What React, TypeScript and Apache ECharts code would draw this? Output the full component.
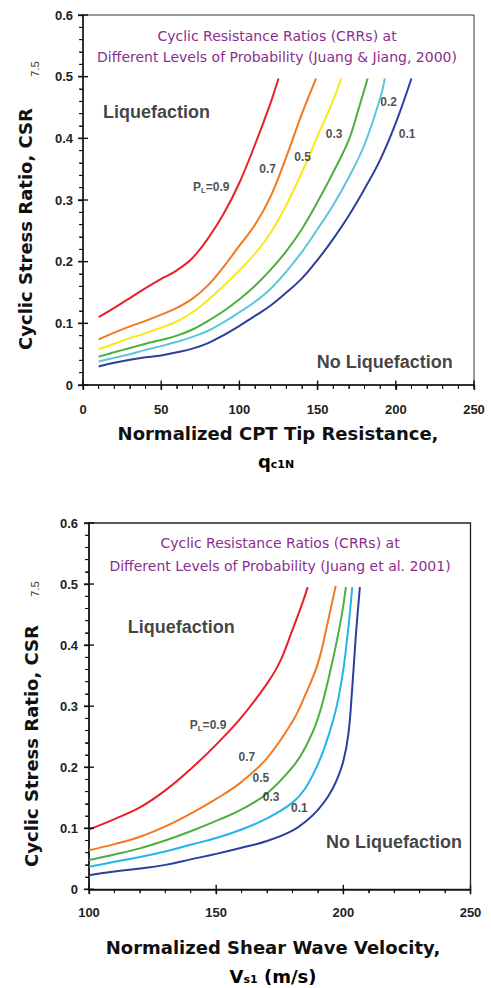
import React, { useEffect, useRef } from "react";
import * as echarts from "echarts";

// ---------- Top chart: CPT (Juang & Jiang, 2000) ----------
const cptXTicks = [0, 50, 100, 150, 200, 250];
const csrTicks = [0, 0.1, 0.2, 0.3, 0.4, 0.5, 0.6];
const cptX09 = [10, 20, 30, 40, 50, 60, 70, 80, 90, 100, 110, 120, 125];
const cptY09 = [0.110, 0.125, 0.141, 0.157, 0.172, 0.186, 0.206, 0.238, 0.278, 0.328, 0.390, 0.458, 0.497];
const cptX07 = [10, 20, 30, 40, 50, 60, 70, 80, 90, 100, 110, 120, 130, 140, 149];
const cptY07 = [0.074, 0.085, 0.095, 0.104, 0.114, 0.125, 0.140, 0.162, 0.192, 0.226, 0.260, 0.306, 0.370, 0.440, 0.497];
const cptX05 = [10, 20, 30, 40, 50, 60, 70, 80, 90, 100, 110, 120, 130, 140, 150, 160, 165];
const cptY05 = [0.058, 0.067, 0.076, 0.084, 0.093, 0.103, 0.118, 0.138, 0.161, 0.186, 0.213, 0.247, 0.292, 0.345, 0.404, 0.462, 0.497];
const cptX03 = [10, 20, 30, 40, 50, 60, 70, 80, 90, 100, 110, 120, 130, 140, 150, 160, 170, 176, 182];
const cptY03 = [0.046, 0.053, 0.060, 0.067, 0.073, 0.080, 0.090, 0.104, 0.120, 0.139, 0.161, 0.187, 0.217, 0.253, 0.297, 0.345, 0.398, 0.446, 0.497];
const cptX02 = [10, 20, 30, 40, 50, 60, 70, 80, 90, 100, 110, 120, 130, 140, 150, 160, 170, 180, 190, 193];
const cptY02 = [0.038, 0.044, 0.050, 0.057, 0.063, 0.070, 0.078, 0.088, 0.102, 0.118, 0.135, 0.156, 0.184, 0.216, 0.253, 0.292, 0.337, 0.390, 0.465, 0.497];
const cptX01 = [10, 20, 30, 40, 50, 60, 70, 80, 90, 100, 110, 120, 130, 140, 150, 160, 170, 180, 190, 200, 210];
const cptY01 = [0.030, 0.036, 0.041, 0.045, 0.048, 0.053, 0.059, 0.068, 0.081, 0.096, 0.112, 0.129, 0.150, 0.173, 0.203, 0.237, 0.275, 0.318, 0.365, 0.425, 0.497];

// ---------- Bottom chart: Vs (Juang et al. 2001) ----------
const vsXTicks = [100, 150, 200, 250];
const vsX09 = [100, 110, 120, 130, 140, 150, 160, 170, 175, 180, 184, 186];
const vsY09 = [0.098, 0.115, 0.134, 0.162, 0.197, 0.237, 0.282, 0.337, 0.372, 0.425, 0.470, 0.495];
const vsX07 = [100, 110, 120, 130, 140, 150, 160, 170, 180, 185, 190, 194, 197];
const vsY07 = [0.064, 0.074, 0.086, 0.103, 0.124, 0.148, 0.176, 0.215, 0.275, 0.318, 0.370, 0.440, 0.497];
const vsX05 = [100, 110, 120, 130, 140, 150, 160, 170, 180, 185, 190, 195, 199, 201];
const vsY05 = [0.048, 0.057, 0.067, 0.080, 0.095, 0.112, 0.131, 0.157, 0.200, 0.232, 0.280, 0.360, 0.440, 0.495];
const vsX03 = [100, 110, 120, 130, 140, 150, 160, 170, 180, 185, 190, 193, 196, 198, 200, 202, 203.5];
const vsY03 = [0.037, 0.045, 0.053, 0.062, 0.073, 0.084, 0.098, 0.116, 0.142, 0.165, 0.205, 0.237, 0.277, 0.312, 0.360, 0.430, 0.495];
const vsX01 = [100, 110, 120, 130, 140, 150, 160, 170, 180, 186, 190, 194, 197, 200, 202, 203.5, 205, 206.5];
const vsY01 = [0.023, 0.029, 0.034, 0.040, 0.049, 0.058, 0.068, 0.079, 0.096, 0.114, 0.130, 0.152, 0.175, 0.210, 0.255, 0.330, 0.420, 0.495];

const cptColors = ["#E8202A", "#F2791F", "#F9E816", "#4DAF3D", "#5CC6DD", "#2C3F9C"];
const vsColors = ["#E8202A", "#F2791F", "#4DAF3D", "#22B5E8", "#2C3F9C"];

// annotation labels [x, y, text]
const cptNotes: [number, number, string][] = [
  [82, 0.321, "{b|P}{s|L}{b|=0.9}"],
  [118, 0.350, "{b|0.7}"],
  [140.4, 0.370, "{b|0.5}"],
  [160.6, 0.407, "{b|0.3}"],
  [195.4, 0.459, "{b|0.2}"],
  [207.2, 0.407, "{b|0.1}"],
  [47, 0.443, "{big|Liquefaction}"],
  [193, 0.037, "{big|No Liquefaction}"],
];
const vsNotes: [number, number, string][] = [
  [146.8, 0.269, "{b|P}{s|L}{b|=0.9}"],
  [162.1, 0.2165, "{b|0.7}"],
  [167.6, 0.182, "{b|0.5}"],
  [171.6, 0.151, "{b|0.3}"],
  [182.7, 0.133, "{b|0.1}"],
  [136.3, 0.429, "{big|Liquefaction}"],
  [219.9, 0.0774, "{big|No Liquefaction}"],
];

const FONT = "'Liberation Sans', Arial, sans-serif";
const zip = (xs: number[], ys: number[]) => xs.map((x, i) => [x, ys[i]]);

function makeAxis(gridIndex: number, ticks: number[], labelMargin: number, isX: boolean) {
  return {
    type: "value",
    gridIndex,
    min: ticks[0],
    max: ticks[ticks.length - 1],
    interval: ticks[1] - ticks[0],
    position: isX ? "bottom" : "left",
    axisLine: { show: true, onZero: false, lineStyle: { color: "#111", width: 1.5 } },
    axisTick: { show: true, inside: false, length: 5, lineStyle: { color: "#111", width: 1.3 } },
    minorTick: { show: true, splitNumber: 5, length: 3.5, lineStyle: { color: "#111", width: 1 } },
    splitLine: { show: false },
    minorSplitLine: { show: false },
    axisLabel: {
      show: true,
      margin: labelMargin,
      color: "#222",
      fontSize: 13,
      fontWeight: "bold",
      fontFamily: FONT,
      formatter: (v: number) => (isX ? String(v) : v === 0 ? "0" : v.toFixed(1)),
    },
  };
}

function lineSeries(idx: number, xs: number[], ys: number[], color: string) {
  return {
    type: "line",
    xAxisIndex: idx,
    yAxisIndex: idx,
    data: zip(xs, ys),
    showSymbol: false,
    symbol: "none",
    smooth: 0.4,
    lineStyle: { color, width: 2 },
    z: 3,
  };
}

// tick marks drawn as thin rect symbols placed on the axes through the scales
function tickSeries(idx: number, xT: number[], yT: number[]) {
  const x0 = xT[0];
  const y0 = yT[0];
  const split = (arr: number[]) => {
    const major: number[] = [];
    const minor: number[] = [];
    for (let i = 0; i < arr.length; i++) {
      major.push(arr[i]);
      if (i < arr.length - 1) {
        const step = (arr[i + 1] - arr[i]) / 5;
        for (let k = 1; k < 5; k++) minor.push(arr[i] + step * k);
      }
    }
    return { major, minor };
  };
  const xs = split(xT);
  const ys = split(yT);
  const base = {
    type: "scatter",
    xAxisIndex: idx,
    yAxisIndex: idx,
    symbol: "rect",
    clip: false,
    silent: true,
    z: 6,
    itemStyle: { color: "#111", opacity: 1 },
    emphasis: { disabled: true },
  };
  return [
    { ...base, data: xs.major.map((v) => [v, y0]), symbolSize: [1.4, 9] },
    { ...base, data: xs.minor.map((v) => [v, y0]), symbolSize: [1, 4], symbolOffset: [0, 2] },
    { ...base, data: ys.major.map((v) => [x0, v]), symbolSize: [10, 1.4] },
    { ...base, data: ys.minor.map((v) => [x0, v]), symbolSize: [4, 1], symbolOffset: [-2, 0] },
  ];
}

const richStyles = {
  b: { fontSize: 12, fontWeight: "bold", fontFamily: FONT, color: "#222" },
  s: { fontSize: 8, fontWeight: "bold", fontFamily: FONT, color: "#222", padding: [6, 0, 0, 0] },
  big: { fontSize: 18, fontWeight: "bold", fontFamily: FONT, color: "#111" },
};

function noteSeries(idx: number, notes: [number, number, string][]) {
  return {
    type: "scatter",
    xAxisIndex: idx,
    yAxisIndex: idx,
    symbolSize: 1,
    itemStyle: { color: "rgba(0,0,0,0)" },
    silent: true,
    z: 5,
    data: notes.map((n) => ({ value: [n[0], n[1]], label: { formatter: n[2] } })),
    label: { show: true, position: "inside", rich: richStyles },
  };
}

export default function App() {
  const ref = useRef<HTMLDivElement>(null);
  useEffect(() => {
    if (!ref.current) return;
    const chart = echarts.init(ref.current, null, { renderer: "svg" });

    const center = { textAlign: "center", textVerticalAlign: "middle", align: "center", verticalAlign: "middle" };
    const titleStyle = (text: string) => ({ text, fill: "#8A2E8E", font: "14px 'DejaVu Sans', sans-serif", ...center });
    const axisName = (text: string) => ({ text, fill: "#111", font: "bold 18px 'DejaVu Sans', sans-serif", ...center });
    const subStyle = (text: string) => ({ text, fill: "#333", font: "11px 'Liberation Sans', Arial, sans-serif", ...center });
    const subRich = {
      m: { fontSize: 18, fontWeight: "bold", fontFamily: "'DejaVu Sans', sans-serif", color: "#111" },
      s: { fontSize: 11, fontWeight: "bold", fontFamily: "'DejaVu Sans', sans-serif", color: "#111", padding: [7, 0, 0, 0] },
    };

    chart.setOption({
      animation: false,
      backgroundColor: "#fff",
      grid: [
        { left: 83, top: 15, width: 391, height: 370, show: true, borderColor: "#333", borderWidth: 1, backgroundColor: "transparent" },
        { left: 89, top: 523, width: 381.5, height: 366.3, show: true, borderColor: "#222", borderWidth: 1.3, backgroundColor: "transparent" },
      ],
      xAxis: [makeAxis(0, cptXTicks, 18, true), makeAxis(1, vsXTicks, 17, true)],
      yAxis: [makeAxis(0, csrTicks, 10, false), makeAxis(1, csrTicks, 11, false)],
      series: [
        lineSeries(0, cptX09, cptY09, cptColors[0]),
        lineSeries(0, cptX07, cptY07, cptColors[1]),
        lineSeries(0, cptX05, cptY05, cptColors[2]),
        lineSeries(0, cptX03, cptY03, cptColors[3]),
        lineSeries(0, cptX02, cptY02, cptColors[4]),
        lineSeries(0, cptX01, cptY01, cptColors[5]),
        noteSeries(0, cptNotes),
        ...tickSeries(0, cptXTicks, csrTicks),
        lineSeries(1, vsX09, vsY09, vsColors[0]),
        lineSeries(1, vsX07, vsY07, vsColors[1]),
        lineSeries(1, vsX05, vsY05, vsColors[2]),
        lineSeries(1, vsX03, vsY03, vsColors[3]),
        lineSeries(1, vsX01, vsY01, vsColors[4]),
        noteSeries(1, vsNotes),
        ...tickSeries(1, vsXTicks, csrTicks),
      ],
      graphic: [
        { type: "text", x: 277, y: 36, style: titleStyle("Cyclic Resistance Ratios (CRRs) at") },
        { type: "text", x: 277, y: 57, style: titleStyle("Different Levels of Probability (Juang & Jiang, 2000)") },
        { type: "text", x: 280, y: 543, style: titleStyle("Cyclic Resistance Ratios (CRRs) at") },
        { type: "text", x: 280, y: 566, style: titleStyle("Different Levels of Probability (Juang et al. 2001)") },
        { type: "text", x: 25, y: 229, rotation: Math.PI / 2, style: axisName("Cyclic Stress Ratio, CSR") },
        { type: "text", x: 35, y: 69, rotation: Math.PI / 2, style: subStyle("7.5") },
        { type: "text", x: 31, y: 746, rotation: Math.PI / 2, style: axisName("Cyclic Stress Ratio, CSR") },
        { type: "text", x: 35, y: 589, rotation: Math.PI / 2, style: subStyle("7.5") },
        { type: "text", x: 278, y: 433, style: axisName("Normalized CPT Tip Resistance,") },
        { type: "text", x: 276, y: 461, style: { text: "{m|q}{s|c1N}", rich: subRich, ...center } },
        { type: "text", x: 273, y: 947, style: axisName("Normalized Shear Wave Velocity,") },
        { type: "text", x: 273, y: 976, style: { text: "{m|V}{s|s1}{m| (m/s)}", rich: subRich, ...center } },
      ],
    });

    return () => chart.dispose();
  }, []);
  return (
    <div
      ref={ref}
      style={{ position: "fixed", left: 0, top: 0, width: 491, height: 988, background: "#fff" }}
    />
  );
}
